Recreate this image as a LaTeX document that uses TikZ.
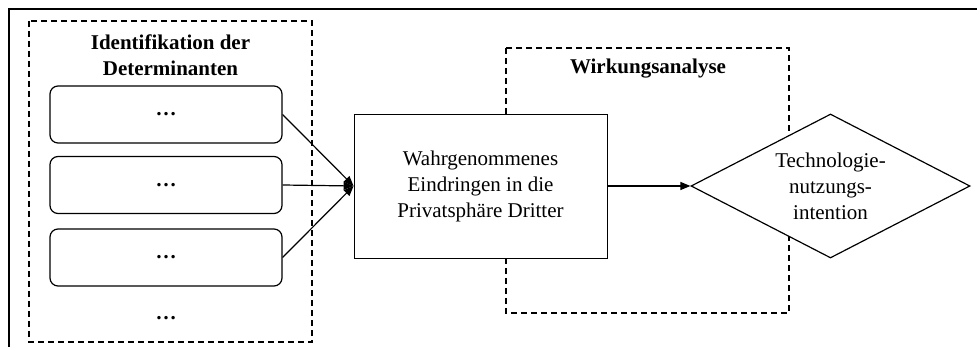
\documentclass[tikz,border=0pt]{standalone}
\usepackage{fontspec}
\setmainfont{Liberation Serif}
\usetikzlibrary{shapes.geometric,arrows.meta}
\newcommand{\bigfnt}{\fontsize{21}{26}\selectfont}
\tikzset{
  frameline/.style={line width=1.3pt},
  dashbox/.style={line width=1.2pt, dash pattern=on 6pt off 4pt},
  detbox/.style={draw, line width=1.2pt, rounded corners=8pt, minimum width=232pt, minimum height=57pt, fill=white, inner sep=0pt, font=\bigfnt\bfseries},
  mainbox/.style={draw, line width=0.9pt, fill=white, minimum width=253pt, minimum height=144pt, inner sep=0pt, align=center, font=\bigfnt},
  outbox/.style={draw, diamond, line width=1.2pt, fill=white, minimum width=279pt, minimum height=144pt, inner sep=0pt, aspect=1.94, align=center, font=\bigfnt},
  title/.style={font=\bigfnt\bfseries, align=center},
  conn/.style={line width=1.2pt, -{Triangle[length=10pt,width=8pt]}}
}
\begin{document}
\begin{tikzpicture}[x=1pt, y=-1pt]
\useasboundingbox (0,0) rectangle (977,347);
% outer frame (cropped)
\draw[frameline] (9,347) -- (9,9) -- (977,9);
% dashed group boxes
\draw[dashbox] (29,21) rectangle (312,342);
\draw[dashbox] (506,48) rectangle (789,313);
% titles
\node[title] (t1) at (170.5,55) {Identifikation der\\Determinanten};
\node[title] (t2) at (648,69) {Wirkungsanalyse};
% determinant boxes
\node[detbox] (d1) at (166,114.5) {…};
\node[detbox] (d2) at (166,185) {…};
\node[detbox] (d3) at (166,257.5) {…};
\node[font=\bigfnt\bfseries] (d4) at (166,318) {…};
% main nodes
\node[mainbox] (m) at (480.5,186) {Wahrgenommenes\\Eindringen in die\\Privatsphäre Dritter};
\node[outbox] (o) at (830.5,186) {Technologie-\\nutzungs-\\intention};
% connectors
\draw[conn] (d1.east) -- (m.west);
\draw[conn] (d2.east) -- (m.west);
\draw[conn] (d3.east) -- (m.west);
\draw[conn] (m.east) -- (o.west);
\end{tikzpicture}
\end{document}
